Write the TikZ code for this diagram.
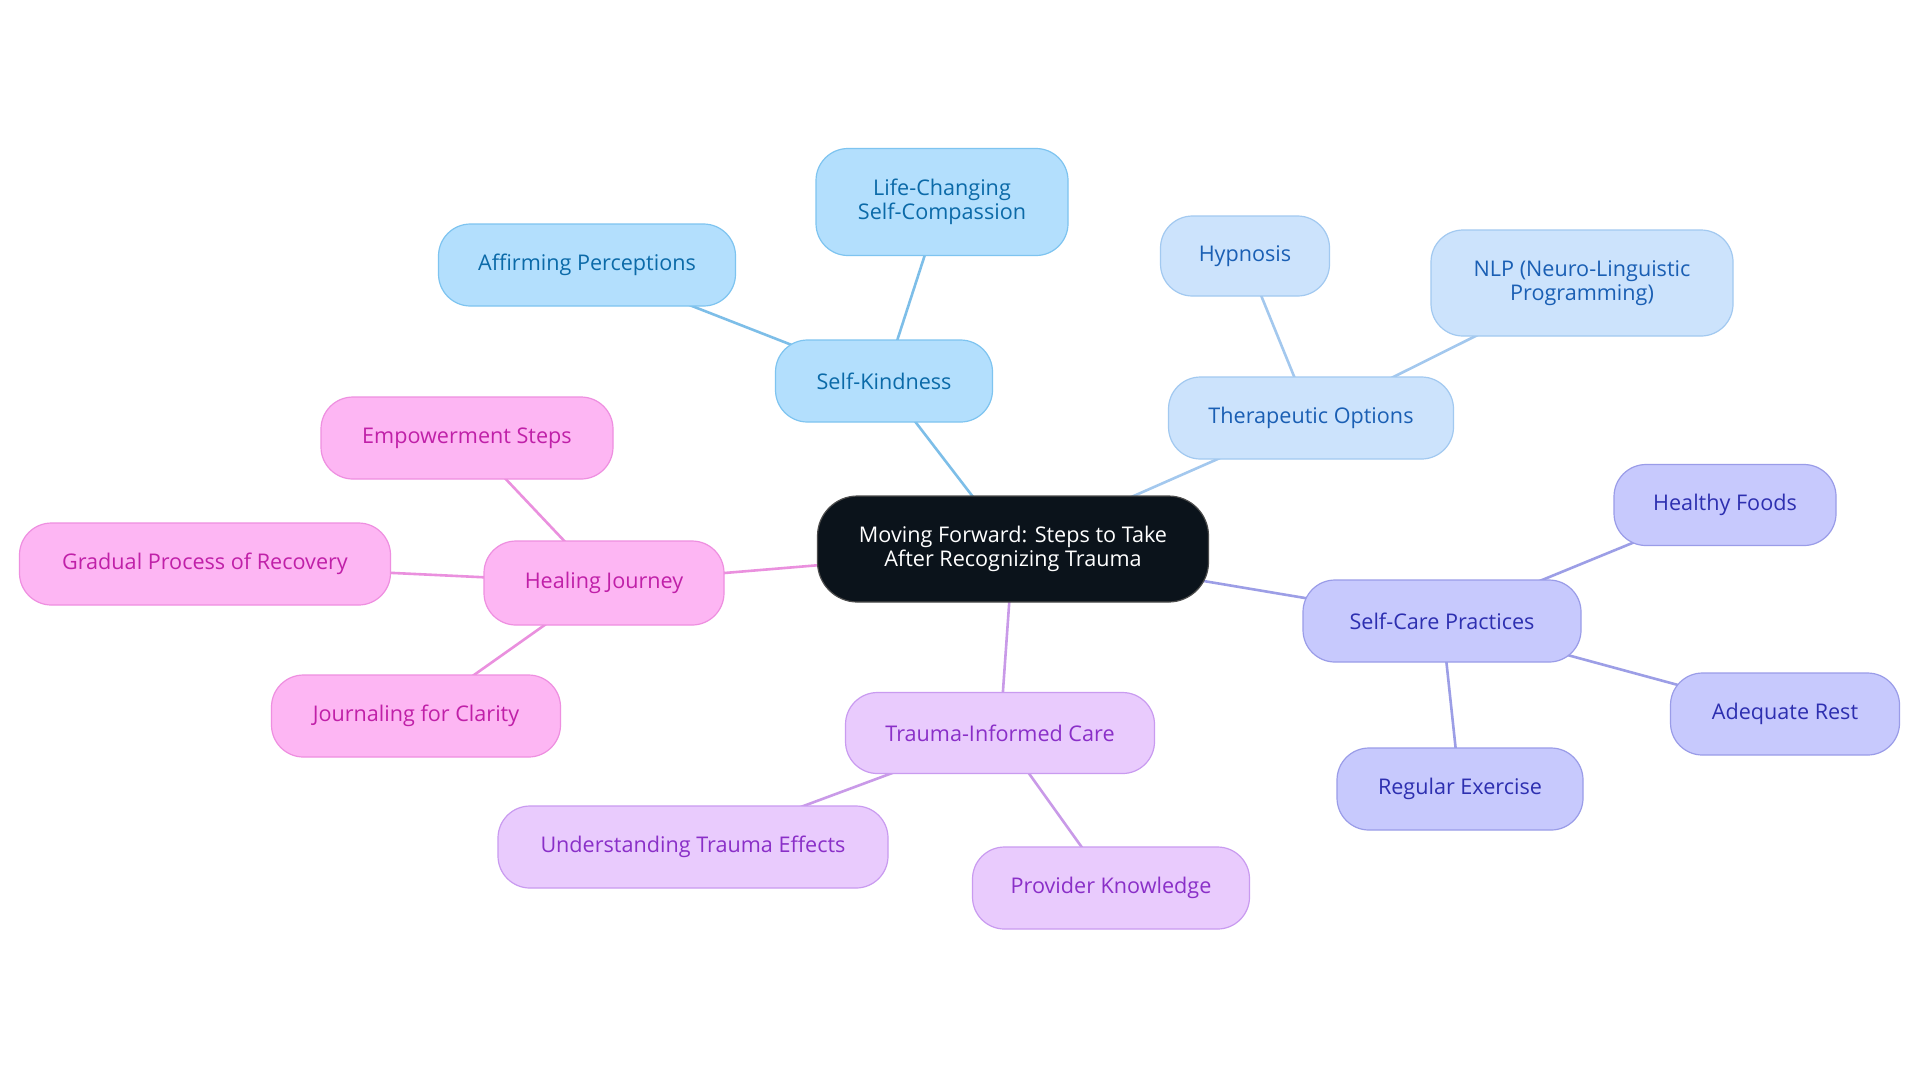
\documentclass[tikz,border=0pt]{standalone}
\usepackage{fontspec}
\setmainfont{Open Sans}
\pgfdeclarelayer{bg}
\pgfsetlayers{bg,main}
\definecolor{kfill}{HTML}{B3DFFD}\definecolor{kdraw}{HTML}{7EC4F0}\definecolor{ktext}{HTML}{0B6AA8}\definecolor{kline}{HTML}{7DBEE8}
\definecolor{tfill}{HTML}{CCE3FC}\definecolor{tdraw}{HTML}{A2C9F0}\definecolor{ttext}{HTML}{1A5FB4}\definecolor{tline}{HTML}{A3C8EE}
\definecolor{sfill}{HTML}{C7C9FD}\definecolor{sdraw}{HTML}{9A9CE8}\definecolor{stext}{HTML}{2D2FB0}\definecolor{sline}{HTML}{9C9EE6}
\definecolor{ifill}{HTML}{E9CBFD}\definecolor{idraw}{HTML}{C99BF0}\definecolor{itext}{HTML}{8A2FC8}\definecolor{iline}{HTML}{C99AE8}
\definecolor{hfill}{HTML}{FDB6F3}\definecolor{hdraw}{HTML}{EE8FE0}\definecolor{htext}{HTML}{C020A8}\definecolor{hline}{HTML}{EA90DE}
\definecolor{cfill}{HTML}{0B131B}
\tikzset{
  box/.style={rounded corners=16pt, line width=0.6pt, align=center, inner sep=0pt,
    font=\fontsize{10.8}{12.3}\selectfont},
  kbox/.style={box, fill=kfill, draw=kdraw, text=ktext},
  tbox/.style={box, fill=tfill, draw=tdraw, text=ttext},
  sbox/.style={box, fill=sfill, draw=sdraw, text=stext},
  ibox/.style={box, fill=ifill, draw=idraw, text=itext},
  hbox/.style={box, fill=hfill, draw=hdraw, text=htext},
  cbox/.style={box, fill=cfill, draw=black!70, text=white, rounded corners=20pt},
  edge/.style={line width=1.3pt},
}
\newcommand{\bx}[6]{\node[#1, minimum width=#4*0.5pt, minimum height=#5*0.5pt] (#2) at (#3) {#6};}
\begin{document}
\begin{tikzpicture}[x=0.5pt,y=-0.5pt]
\useasboundingbox (0,0) rectangle (1920,1083);
\begin{pgfonlayer}{bg}
\fill[white] (0,0) rectangle (1920,1083);
\end{pgfonlayer}
\bx{cbox}{c}{1013,549}{391}{106}{Moving Forward: Steps to Take\\After Recognizing Trauma}
\bx{kbox}{sk}{884,381}{217}{82}{Self-Kindness}
\bx{kbox}{lc}{942,202}{252}{107}{Life-Changing\\Self-Compassion}
\bx{kbox}{af}{587,265}{297}{82}{Affirming Perceptions}
\bx{tbox}{to}{1311,418}{285}{82}{Therapeutic Options}
\bx{tbox}{hy}{1245,256}{169}{80}{Hypnosis}
\bx{tbox}{nlp}{1582,283}{302}{106}{NLP (Neuro-Linguistic\\Programming)}
\bx{sbox}{sc}{1442,621}{278}{82}{Self-Care Practices}
\bx{sbox}{hf}{1725,505}{222}{81}{Healthy Foods}
\bx{sbox}{ar}{1785,714}{229}{82}{Adequate Rest}
\bx{sbox}{re}{1460,789}{246}{82}{Regular Exercise}
\bx{ibox}{ti}{1000,733}{309}{81}{Trauma-Informed Care}
\bx{ibox}{ut}{693,847}{390}{82}{Understanding Trauma Effects}
\bx{ibox}{pk}{1111,888}{277}{82}{Provider Knowledge}
\bx{hbox}{hj}{604,583}{240}{84}{Healing Journey}
\bx{hbox}{es}{467,438}{292}{82}{Empowerment Steps}
\bx{hbox}{gp}{205,564}{371}{82}{Gradual Process of Recovery}
\bx{hbox}{jc}{416,716}{289}{82}{Journaling for Clarity}
\begin{pgfonlayer}{bg}
\draw[edge, kline] (c.center) -- (sk.center);
\draw[edge, kline] (sk.center) -- (lc.center);
\draw[edge, kline] (sk.center) -- (af.center);
\draw[edge, tline] (c.center) -- (to.center);
\draw[edge, tline] (to.center) -- (hy.center);
\draw[edge, tline] (to.center) -- (nlp.center);
\draw[edge, sline] (c.center) -- (sc.center);
\draw[edge, sline] (sc.center) -- (hf.center);
\draw[edge, sline] (sc.center) -- (ar.center);
\draw[edge, sline] (sc.center) -- (re.center);
\draw[edge, iline] (c.center) -- (ti.center);
\draw[edge, iline] (ti.center) -- (ut.center);
\draw[edge, iline] (ti.center) -- (pk.center);
\draw[edge, hline] (c.center) -- (hj.center);
\draw[edge, hline] (hj.center) -- (es.center);
\draw[edge, hline] (hj.center) -- (gp.center);
\draw[edge, hline] (hj.center) -- (jc.center);
\end{pgfonlayer}
\end{tikzpicture}
\end{document}
